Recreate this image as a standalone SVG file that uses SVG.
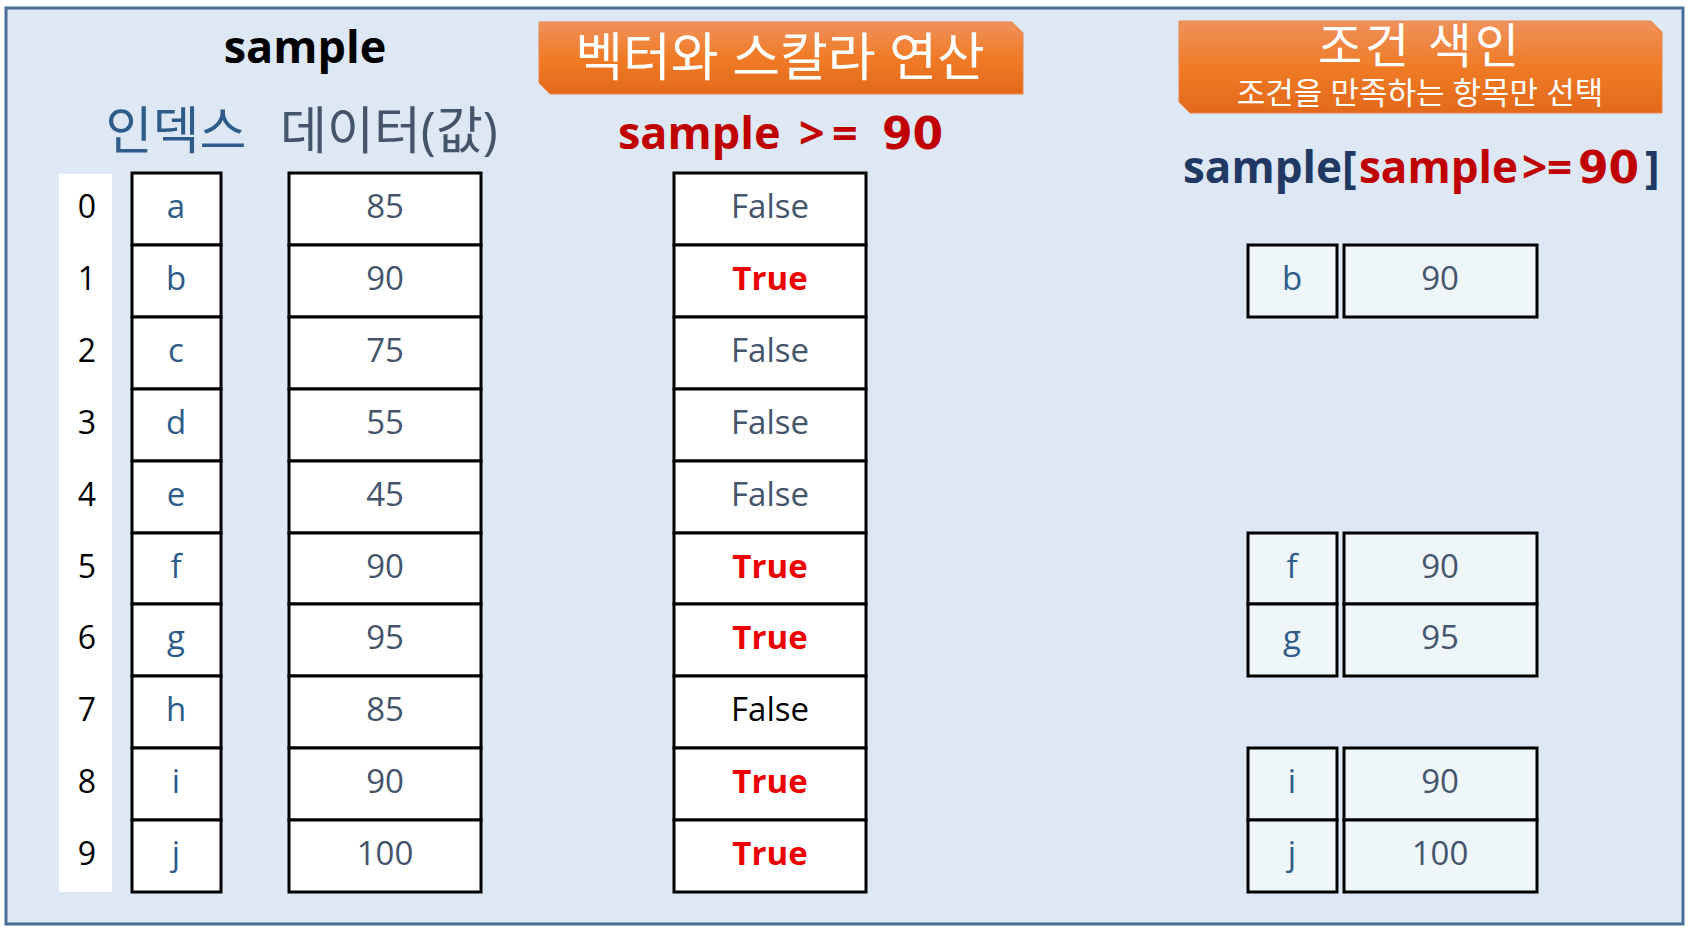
<svg xmlns="http://www.w3.org/2000/svg" width="1694" height="929" viewBox="0 0 1694 929">
<defs>
<linearGradient id="og" x1="0" y1="0" x2="0" y2="1">
<stop offset="0" stop-color="#f0915c"/>
<stop offset="0.5" stop-color="#f07b25"/>
<stop offset="1" stop-color="#e2691a"/>
</linearGradient>
<style>
text{font-family:"Open Sans","Noto Sans CJK KR",sans-serif;text-anchor:middle}
.st{text-anchor:start}
.num{font-family:"DejaVu Sans",sans-serif}
.cell{fill:#ffffff;stroke:#000;stroke-width:3}
.rcell{fill:#eef6fa;stroke:#000;stroke-width:3}
.key{font-size:33px;fill:#2e5c8a}
.val{font-size:33px;fill:#44546a}
.idx{font-size:32px;fill:#000}
.f{font-size:33px;fill:#44546a}
.t{font-size:33px;fill:#ee0000;font-weight:bold}
.ban{fill:url(#og);stroke:#e8864a;stroke-width:1}
.bt{fill:#fff}
.red{fill:#c00000}
</style>
</defs>
<rect x="6" y="8" width="1677" height="916" fill="#dde8f4" stroke="#4a6f96" stroke-width="3"/>

<g id="title-sample">
<text x="305" y="63" font-size="45" font-weight="bold" fill="#000">sample</text>
<text x="176" y="149" font-size="51" fill="#2e5c8a">인덱스</text>
<text x="389" y="149" font-size="51" fill="#44546a">데이터(값)</text>
</g>

<g id="banner-vector">
<path class="ban" d="M539,22 H1012 L1023,33 V94 H550 L539,83 Z"/>
<text class="bt" x="780" y="76" font-size="52">벡터와 스칼라 연산</text>
</g>
<g id="expr-vector">
<text class="st red" y="149" font-size="45" font-weight="bold"><tspan x="618">sample </tspan><tspan x="799">&gt;</tspan><tspan x="832">= </tspan><tspan x="882" class="num" font-size="44">90</tspan></text>
</g>

<g id="banner-cond">
<path class="ban" d="M1179,21 H1651 L1662,32 V113 H1190 L1179,102 Z"/>
<text class="bt" x="1420" y="63" font-size="48" letter-spacing="3">조건 색인</text>
<text class="bt" x="1420" y="104" font-size="31">조건을 만족하는 항목만 선택</text>
</g>
<g id="expr-cond">
<text class="st" y="183" font-size="44" font-weight="bold" fill="#1f3864"><tspan x="1183">sample[</tspan><tspan x="1359" class="red">sample</tspan><tspan x="1522" class="red">&gt;</tspan><tspan x="1547" class="red">=</tspan><tspan x="1578" class="red num">90</tspan><tspan x="1645">]</tspan></text>
</g>

<g id="index-col">
<rect x="59" y="174" width="53" height="718" fill="#ffffff"/>
<text class="idx" x="87" y="218">0</text>
<text class="idx" x="87" y="290">1</text>
<text class="idx" x="87" y="362">2</text>
<text class="idx" x="87" y="434">3</text>
<text class="idx" x="87" y="506">4</text>
<text class="idx" x="87" y="578">5</text>
<text class="idx" x="87" y="649">6</text>
<text class="idx" x="87" y="721">7</text>
<text class="idx" x="87" y="793">8</text>
<text class="idx" x="87" y="865">9</text>
</g>

<g id="key-col">
<rect class="cell" x="132" y="173" width="89" height="72"/>
<rect class="cell" x="132" y="245" width="89" height="72"/>
<rect class="cell" x="132" y="317" width="89" height="72"/>
<rect class="cell" x="132" y="389" width="89" height="72"/>
<rect class="cell" x="132" y="461" width="89" height="72"/>
<rect class="cell" x="132" y="533" width="89" height="71"/>
<rect class="cell" x="132" y="604" width="89" height="72"/>
<rect class="cell" x="132" y="676" width="89" height="72"/>
<rect class="cell" x="132" y="748" width="89" height="72"/>
<rect class="cell" x="132" y="820" width="89" height="72"/>
<text class="key" x="176" y="218">a</text>
<text class="key" x="176" y="290">b</text>
<text class="key" x="176" y="362">c</text>
<text class="key" x="176" y="434">d</text>
<text class="key" x="176" y="506">e</text>
<text class="key" x="176" y="578">f</text>
<text class="key" x="176" y="649">g</text>
<text class="key" x="176" y="721">h</text>
<text class="key" x="176" y="793">i</text>
<text class="key" x="176" y="865">j</text>
</g>

<g id="data-col">
<rect class="cell" x="289" y="173" width="192" height="72"/>
<rect class="cell" x="289" y="245" width="192" height="72"/>
<rect class="cell" x="289" y="317" width="192" height="72"/>
<rect class="cell" x="289" y="389" width="192" height="72"/>
<rect class="cell" x="289" y="461" width="192" height="72"/>
<rect class="cell" x="289" y="533" width="192" height="71"/>
<rect class="cell" x="289" y="604" width="192" height="72"/>
<rect class="cell" x="289" y="676" width="192" height="72"/>
<rect class="cell" x="289" y="748" width="192" height="72"/>
<rect class="cell" x="289" y="820" width="192" height="72"/>
<text class="val" x="385" y="218">85</text>
<text class="val" x="385" y="290">90</text>
<text class="val" x="385" y="362">75</text>
<text class="val" x="385" y="434">55</text>
<text class="val" x="385" y="506">45</text>
<text class="val" x="385" y="578">90</text>
<text class="val" x="385" y="649">95</text>
<text class="val" x="385" y="721">85</text>
<text class="val" x="385" y="793">90</text>
<text class="val" x="385" y="865">100</text>
</g>

<g id="bool-col">
<rect class="cell" x="674" y="173" width="192" height="72"/>
<rect class="cell" x="674" y="245" width="192" height="72"/>
<rect class="cell" x="674" y="317" width="192" height="72"/>
<rect class="cell" x="674" y="389" width="192" height="72"/>
<rect class="cell" x="674" y="461" width="192" height="72"/>
<rect class="cell" x="674" y="533" width="192" height="71"/>
<rect class="cell" x="674" y="604" width="192" height="72"/>
<rect class="cell" x="674" y="676" width="192" height="72"/>
<rect class="cell" x="674" y="748" width="192" height="72"/>
<rect class="cell" x="674" y="820" width="192" height="72"/>
<text class="f" x="770" y="218">False</text>
<text class="t" x="770" y="290">True</text>
<text class="f" x="770" y="362">False</text>
<text class="f" x="770" y="434">False</text>
<text class="f" x="770" y="506">False</text>
<text class="t" x="770" y="578">True</text>
<text class="t" x="770" y="649">True</text>
<text class="f" x="770" y="721" style="fill:#000">False</text>
<text class="t" x="770" y="793">True</text>
<text class="t" x="770" y="865">True</text>
</g>

<g id="result">
<rect class="rcell" x="1248" y="245" width="89" height="72"/>
<rect class="rcell" x="1344" y="245" width="193" height="72"/>
<text class="key" x="1292" y="290">b</text>
<text class="val" x="1440" y="290">90</text>

<rect class="rcell" x="1248" y="533" width="89" height="71"/>
<rect class="rcell" x="1344" y="533" width="193" height="71"/>
<rect class="rcell" x="1248" y="604" width="89" height="72"/>
<rect class="rcell" x="1344" y="604" width="193" height="72"/>
<text class="key" x="1292" y="578">f</text>
<text class="val" x="1440" y="578">90</text>
<text class="key" x="1292" y="649">g</text>
<text class="val" x="1440" y="649">95</text>

<rect class="rcell" x="1248" y="748" width="89" height="72"/>
<rect class="rcell" x="1344" y="748" width="193" height="72"/>
<rect class="rcell" x="1248" y="820" width="89" height="72"/>
<rect class="rcell" x="1344" y="820" width="193" height="72"/>
<text class="key" x="1292" y="793">i</text>
<text class="val" x="1440" y="793">90</text>
<text class="key" x="1292" y="865">j</text>
<text class="val" x="1440" y="865">100</text>
</g>
</svg>
